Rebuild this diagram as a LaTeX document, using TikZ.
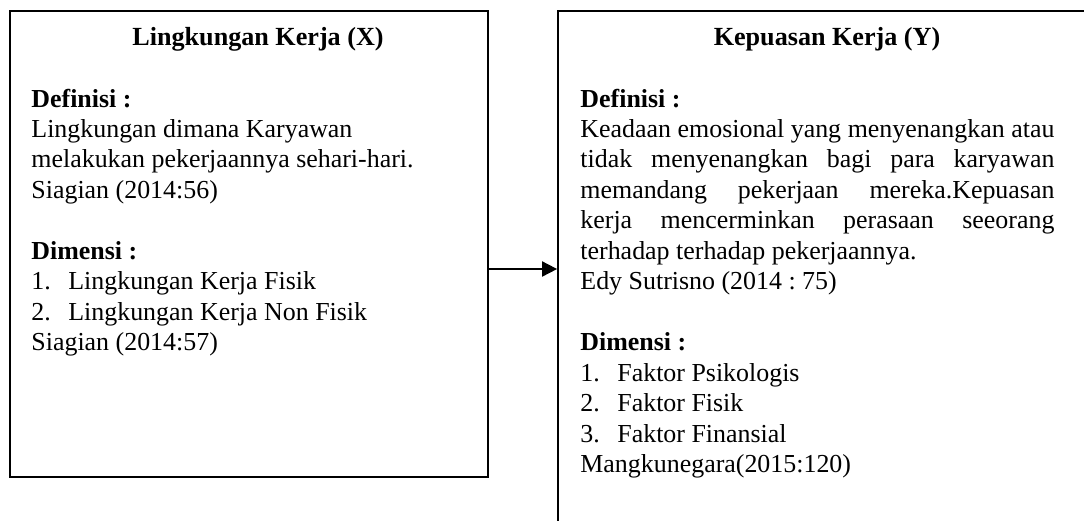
\documentclass[tikz,border=0pt]{standalone}
\usepackage{fontspec}
\setmainfont{Liberation Serif}
\usetikzlibrary{arrows.meta, positioning, calc}
\newcommand{\px}{0.463pt}
\newcommand{\nomor}[1]{\makebox[17.1pt][l]{#1}}
\tolerance=10000
\hyphenpenalty=10000
\frenchspacing

\begin{document}
\begin{tikzpicture}[x=0.463pt, y=-0.463pt,
        kotak/.style={draw, line width=0.8pt, inner sep=0pt},
        isi/.style={anchor=base west, inner sep=0pt, align=justify, font=\fontsize{12pt}{14.12pt}\selectfont},
        judul/.style={anchor=base, inner sep=0pt, font=\fontsize{12.1pt}{14.12pt}\selectfont\bfseries}]
        \path[use as bounding box, clip] (0,0) rectangle (1084,520);
        \node[kotak, minimum width=478*\px, minimum height=466*\px] (boxX) at (249,244) {};
        \node[kotak, minimum width=540*\px, minimum height=530*\px] (boxY) at (828,276) {};
        \node[judul] (judulX) at (258,45) {Lingkungan Kerja (X)};
        \node[judul] (judulY) at (827,45) {Kepuasan Kerja (Y)};
        \node[isi, text width=450*\px] (isiX) at (31,107) {\textbf{Definisi :}\\
            Lingkungan dimana Karyawan\\
            melakukan pekerjaannya sehari-hari.\\
            Siagian (2014:56)\\[14.12pt]
            \textbf{Dimensi :}\\
            \nomor{1.}Lingkungan Kerja Fisik\\
            \nomor{2.}Lingkungan Kerja Non Fisik\\
            Siagian (2014:57)};
        \node[isi, text width=474*\px] (isiY) at (580,107) {\textbf{Definisi :}\\
            Keadaan emosional yang menyenangkan atau\linebreak
            tidak menyenangkan bagi para karyawan\linebreak
            memandang pekerjaan mereka.Kepuasan\linebreak
            kerja mencerminkan perasaan seeorang\linebreak
            terhadap terhadap pekerjaannya.\\
            Edy Sutrisno (2014 : 75)\\[14.12pt]
            \textbf{Dimensi :}\\
            \nomor{1.}Faktor Psikologis\\
            \nomor{2.}Faktor Fisik\\
            \nomor{3.}Faktor Finansial\\
            Mangkunegara(2015:120)};
        \coordinate[] (panah) at (0,269);
        \draw[line width=0.8pt, -{Triangle[length=7pt, width=7pt]}] (boxX.east |- panah) -- (boxY.west |- panah);
\end{tikzpicture}
\end{document}
